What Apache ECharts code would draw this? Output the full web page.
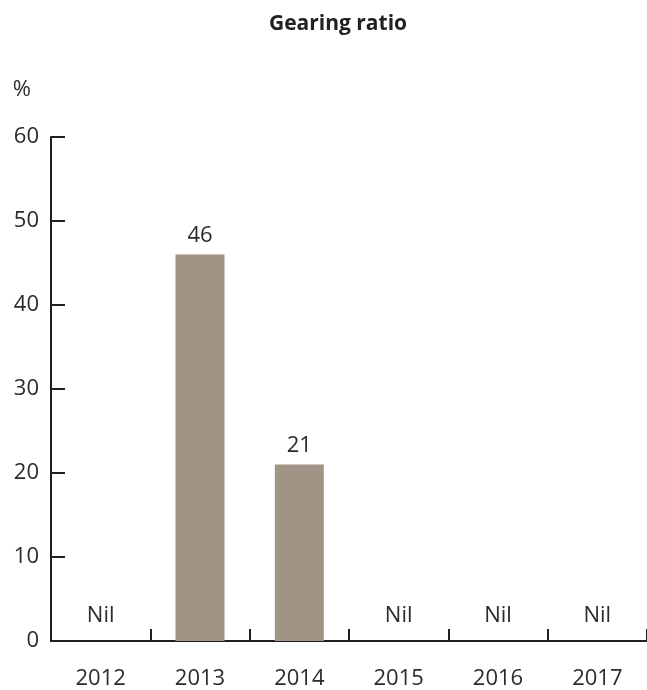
<!DOCTYPE html>
<html>
<head>
<meta charset="utf-8">
<script src="https://cdn.jsdelivr.net/npm/echarts@6/dist/echarts.min.js"></script>
<style>html,body{margin:0;padding:0;background:#fff}#c{width:647px;height:690px}</style>
</head>
<body>
<div id="c"></div>
<script>
var categories = ['2012', '2013', '2014', '2015', '2016', '2017'];
var gearing = [0, 46, 21, 0, 0, 0];
var barLabels = ['Nil', '46', '21', 'Nil', 'Nil', 'Nil'];
var yTicks = [0, 10, 20, 30, 40, 50, 60];

var FONT = '"Open Sans", "Noto Sans", sans-serif';
var TXT = '#2b2b2b';
var AX = '#231f20';

var chart = echarts.init(document.getElementById('c'), null, {renderer: 'canvas'});
var seriesData = gearing.map(function (v, i) {
  return {
    value: v,
    label: {
      formatter: barLabels[i],
      distance: v === 0 ? 14 : 8
    }
  };
});
chart.setOption({
  animation: false,
  backgroundColor: '#fff',
  title: {
    text: 'Gearing ratio',
    left: 333,
    textAlign: 'center',
    top: 9,
    textStyle: {fontFamily: FONT, fontSize: 21, fontWeight: 'bold', color: '#222'}
  },
  grid: {left: 51, top: 137, width: 600, height: 505, containLabel: false},
  xAxis: {
    type: 'category',
    data: categories,
    boundaryGap: true,
    axisLine: {lineStyle: {color: AX, width: 2}},
    axisTick: {show: true, inside: true, length: 12, lineStyle: {color: AX, width: 2}},
    axisLabel: {margin: 27, fontFamily: FONT, fontSize: 22, color: TXT}
  },
  yAxis: {
    type: 'value',
    min: yTicks[0],
    max: yTicks[yTicks.length - 1],
    interval: 10,
    name: '%',
    nameLocation: 'end',
    nameGap: 36,
    nameTextStyle: {fontFamily: FONT, fontSize: 22, color: TXT, align: 'right', padding: [0, 20, 0, 0]},
    splitLine: {show: false},
    axisLine: {show: true, lineStyle: {color: AX, width: 2}},
    axisTick: {show: true, inside: true, length: 14, lineStyle: {color: AX, width: 2}},
    axisLabel: {margin: 12, fontFamily: FONT, fontSize: 22, color: TXT}
  },
  series: [{
    type: 'bar',
    data: seriesData,
    barWidth: 49,
    itemStyle: {color: '#a09487'},
    label: {
      show: true,
      position: 'top',
      fontFamily: FONT,
      fontSize: 22,
      color: TXT
    }
  }]
});
</script>
</body>
</html>
